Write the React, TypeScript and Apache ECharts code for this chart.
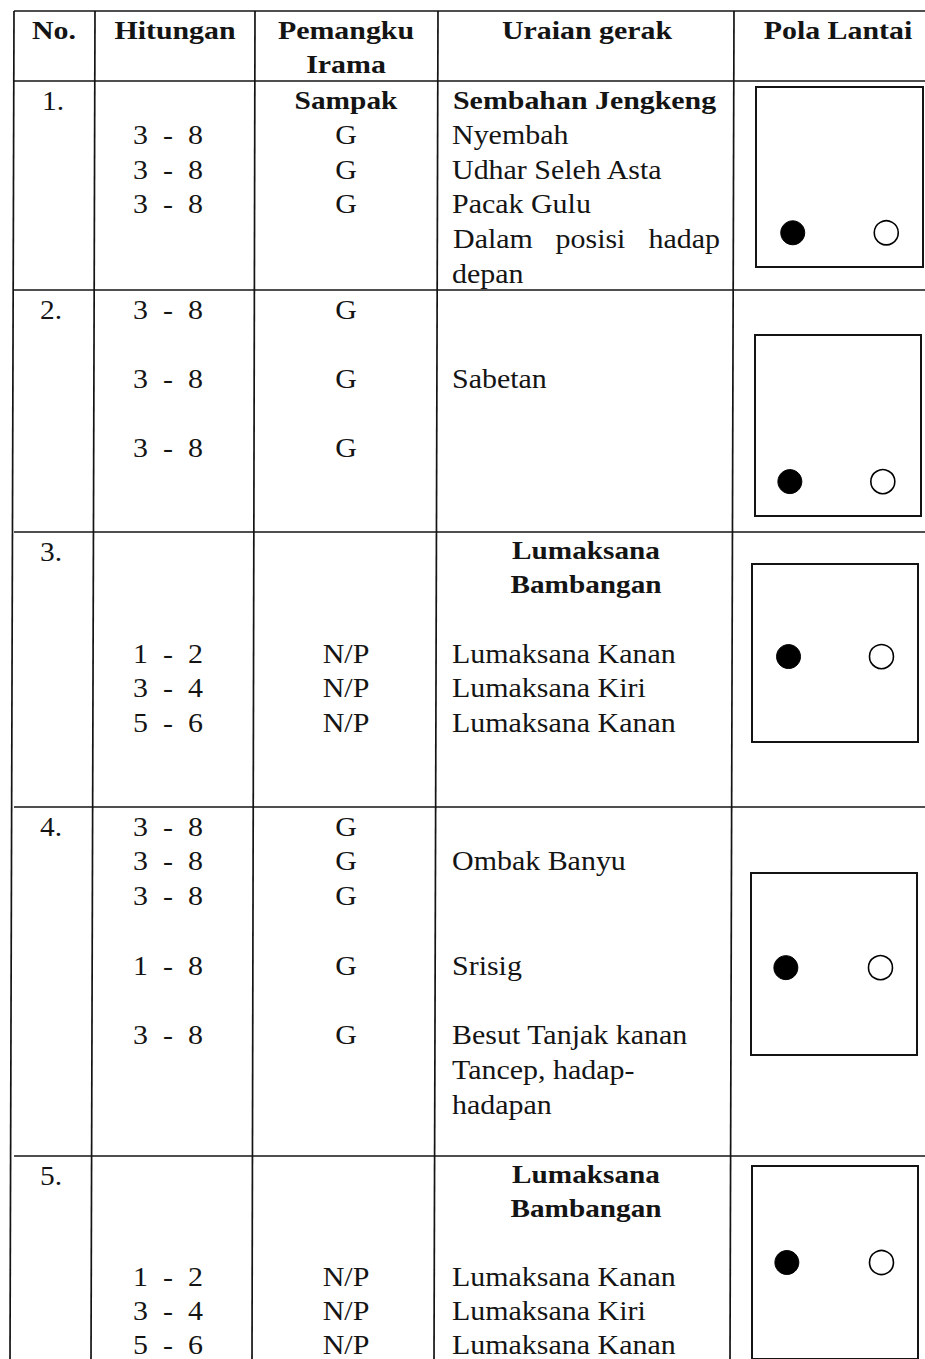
import React, { useEffect, useRef } from "react";
import * as echarts from "echarts";

// ---------- table content ----------
const headerTitles = ["No.", "Hitungan", "Pemangku", "Irama", "Uraian gerak", "Pola Lantai"];
const rowNumbers = ["1.", "2.", "3.", "4.", "5."];

// [line slot, text]
const hitunganRows: [number, string][][] = [
  [[1, "3  -  8"], [2, "3  -  8"], [3, "3  -  8"]],
  [[0, "3  -  8"], [2, "3  -  8"], [4, "3  -  8"]],
  [[3, "1  -  2"], [4, "3  -  4"], [5, "5  -  6"]],
  [[0, "3  -  8"], [1, "3  -  8"], [2, "3  -  8"], [4, "1  -  8"], [6, "3  -  8"]],
  [[3, "1  -  2"], [4, "3  -  4"], [5, "5  -  6"]],
];

// [line slot, text, bold]
const iramaRows: [number, string, boolean?][][] = [
  [[0, "Sampak", true], [1, "G"], [2, "G"], [3, "G"]],
  [[0, "G"], [2, "G"], [4, "G"]],
  [[3, "N/P"], [4, "N/P"], [5, "N/P"]],
  [[0, "G"], [1, "G"], [2, "G"], [4, "G"], [6, "G"]],
  [[3, "N/P"], [4, "N/P"], [5, "N/P"]],
];

// [line slot, text, kind]  kind: "" normal, "title" bold left, "heading" bold centred, "justify"
const uraianRows: [number, string, string?][][] = [
  [
    [0, "Sembahan Jengkeng", "title"],
    [1, "Nyembah"],
    [2, "Udhar Seleh Asta"],
    [3, "Pacak Gulu"],
    [4, "Dalam posisi hadap", "justify"],
    [5, "depan"],
  ],
  [[2, "Sabetan"]],
  [
    [0, "Lumaksana", "heading"],
    [1, "Bambangan", "heading"],
    [3, "Lumaksana Kanan"],
    [4, "Lumaksana Kiri"],
    [5, "Lumaksana Kanan"],
  ],
  [
    [1, "Ombak Banyu"],
    [4, "Srisig"],
    [6, "Besut Tanjak kanan"],
    [7, "Tancep, hadap-"],
    [8, "hadapan"],
  ],
  [
    [0, "Lumaksana", "heading"],
    [1, "Bambangan", "heading"],
    [3, "Lumaksana Kanan"],
    [4, "Lumaksana Kiri"],
    [5, "Lumaksana Kanan"],
  ],
];

// floor pattern: dancer positions inside each box (0..100, y from bottom)
const dancerFilled: [number, number][] = [[22, 19], [21, 19], [22, 48], [21, 48], [21, 50]];
const dancerHollow: [number, number][] = [[78, 19], [77, 19], [78, 48], [78, 48], [78, 50]];

// ---------- layout ----------
const W = 925;
const H = 1359;
const FONT = "Liberation Serif";
const INK = "#141414";
const hLines = [11, 81, 290, 532, 807, 1156];
const vLines: [number, number][] = [[14, 10], [95, 91], [255, 252], [438, 434], [734, 730]];
const rowTops = [81, 290, 532, 807, 1156];
const rowGaps = [34.6, 34.6, 34.2, 34.8, 33.8];
const boxes = [
  { left: 756, top: 87, width: 167, height: 180 },
  { left: 755, top: 335, width: 166, height: 181 },
  { left: 752, top: 564, width: 166, height: 178 },
  { left: 751, top: 873, width: 166, height: 182 },
  { left: 752, top: 1166, width: 166, height: 200 },
];
const FIRST = 19;

function txt(
  x: number,
  y: number,
  text: string,
  o: { bold?: boolean; size?: number; sx?: number; align?: string } = {}
) {
  const align = o.align || "left";
  return {
    type: "text",
    x,
    y,
    scaleX: o.sx ?? 1.07,
    silent: true,
    z: 10,
    style: {
      text,
      fill: INK,
      fontFamily: FONT,
      fontSize: o.size ?? 28,
      fontWeight: o.bold ? "bold" : "normal",
      align,
      verticalAlign: "middle",
      textAlign: align,
      textVerticalAlign: "middle",
    },
  };
}

function buildOption() {
  const graphic: any[] = [];
  hLines.forEach((y) => {
    graphic.push({
      type: "line",
      silent: true,
      shape: { x1: 14, y1: y, x2: W, y2: y },
      style: { stroke: INK, lineWidth: 1.7 },
    });
  });
  vLines.forEach(([xt, xb]) => {
    graphic.push({
      type: "line",
      silent: true,
      shape: { x1: xt, y1: 11, x2: xb, y2: H },
      style: { stroke: INK, lineWidth: 1.7 },
    });
  });

  // header
  const hb = { bold: true, size: 26, sx: 1.15, align: "center" };
  graphic.push(txt(54, 30.5, headerTitles[0], hb));
  graphic.push(txt(175, 30.5, headerTitles[1], hb));
  graphic.push(txt(346, 30.5, headerTitles[2], hb));
  graphic.push(txt(346, 64, headerTitles[3], hb));
  graphic.push(txt(587, 30.5, headerTitles[4], hb));
  graphic.push(txt(838, 30.5, headerTitles[5], hb));

  rowTops.forEach((top, r) => {
    const ly = (slot: number) => top + FIRST + slot * rowGaps[r];
    graphic.push(txt(r === 0 ? 42 : 40, ly(0), rowNumbers[r], { sx: 1.05 }));
    hitunganRows[r].forEach(([s, t]) => {
      graphic.push(txt(168, ly(s), t, { align: "center" }));
    });
    iramaRows[r].forEach(([s, t, b]) => {
      if (b) graphic.push(txt(346, ly(s), t, { bold: true, size: 26, sx: 1.13, align: "center" }));
      else graphic.push(txt(346, ly(s), t, { align: "center" }));
    });
    uraianRows[r].forEach(([s, t, kind]) => {
      if (kind === "title") {
        graphic.push(txt(453, ly(s), t, { bold: true, size: 26, sx: 1.15 }));
      } else if (kind === "heading") {
        graphic.push(txt(586, ly(s), t, { bold: true, size: 25, sx: 1.17, align: "center" }));
      } else if (kind === "justify") {
        const words = t.split(" ");
        const L = 453;
        const R = 720;
        words.forEach((w, i) => {
          if (i === 0) graphic.push(txt(L, ly(s), w));
          else if (i === words.length - 1) graphic.push(txt(R, ly(s), w, { align: "right" }));
          else
            graphic.push(
              txt(L + ((R - L) * i) / (words.length - 1) + 4, ly(s), w, { align: "center" })
            );
        });
      } else {
        graphic.push(txt(452, ly(s), t));
      }
    });
  });

  const grid = boxes.map((b) => ({
    ...b,
    show: true,
    borderColor: INK,
    borderWidth: 2,
    backgroundColor: "transparent",
    containLabel: false,
  }));
  const xAxis = boxes.map((_, i) => ({ type: "value", gridIndex: i, min: 0, max: 100, show: false }));
  const yAxis = boxes.map((_, i) => ({ type: "value", gridIndex: i, min: 0, max: 100, show: false }));
  const series = boxes.map((_, i) => ({
    type: "scatter",
    xAxisIndex: i,
    yAxisIndex: i,
    symbol: "circle",
    symbolSize: 24,
    silent: true,
    itemStyle: { opacity: 1 },
    data: [
      {
        value: dancerFilled[i],
        itemStyle: { color: "#000", borderColor: "#000", borderWidth: 1, opacity: 1 },
      },
      {
        value: dancerHollow[i],
        itemStyle: { color: "#fff", borderColor: "#000", borderWidth: 1.6, opacity: 1 },
      },
    ],
  }));

  return {
    animation: false,
    backgroundColor: "#ffffff",
    grid,
    xAxis,
    yAxis,
    series,
    graphic,
  };
}

export default function App() {
  const ref = useRef<HTMLDivElement>(null);
  useEffect(() => {
    document.body.style.margin = "0";
    const chart = echarts.init(ref.current as HTMLDivElement, null, {
      renderer: "svg",
      width: W,
      height: H,
    });
    chart.setOption(buildOption() as any);
    return () => chart.dispose();
  }, []);
  return (
    <div
      ref={ref}
      style={{ position: "absolute", left: 0, top: 0, width: W, height: H, background: "#fff" }}
    />
  );
}
